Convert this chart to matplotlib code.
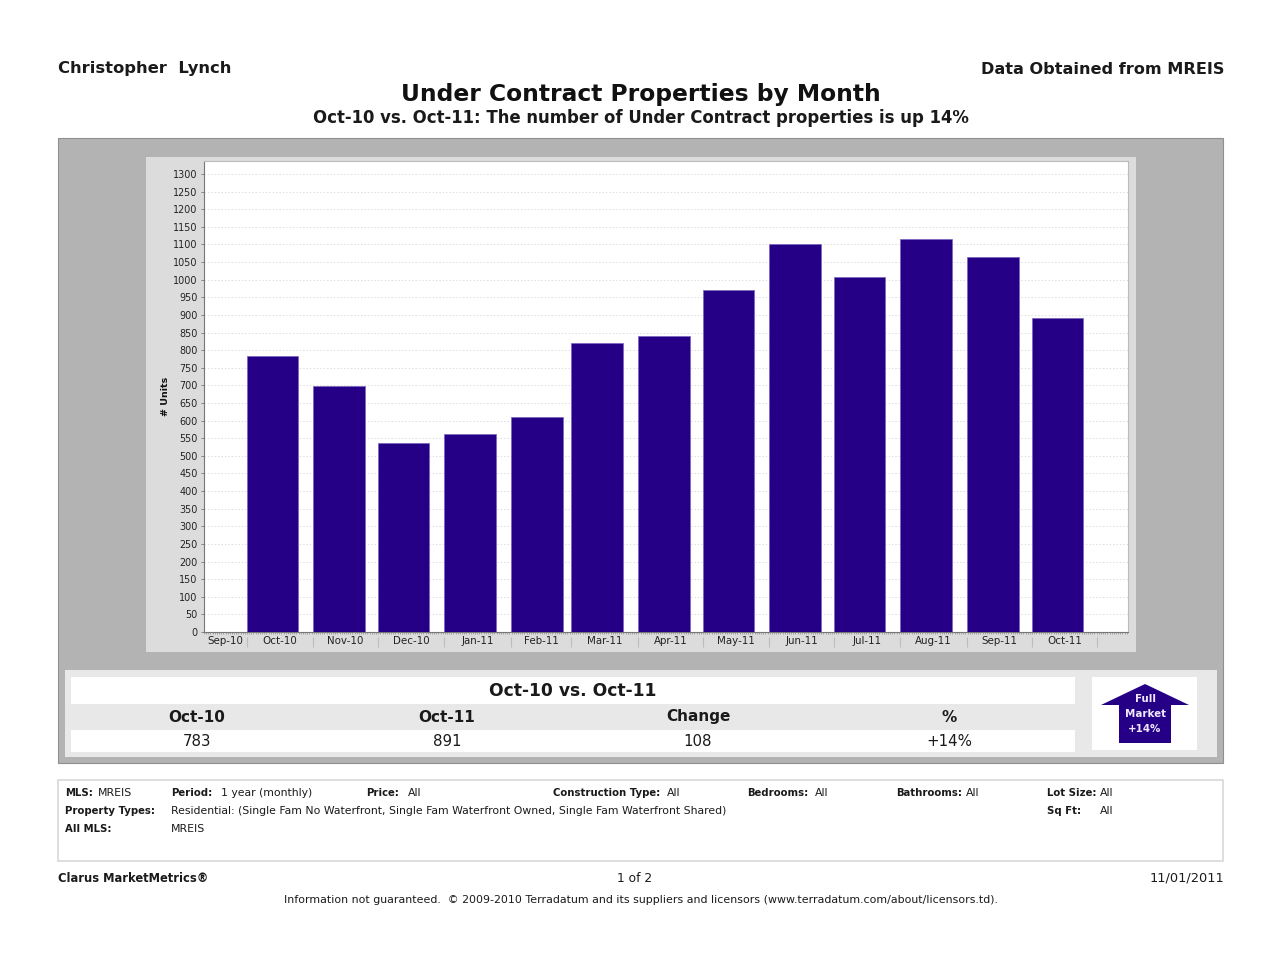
import matplotlib
matplotlib.use("Agg")
import matplotlib.pyplot as plt
import matplotlib.dates as mdates
from matplotlib.patches import Rectangle, Polygon
from datetime import datetime, timedelta

W, H = 1280, 971

months = ["Oct-10", "Nov-10", "Dec-10", "Jan-11", "Feb-11", "Mar-11", "Apr-11",
          "May-11", "Jun-11", "Jul-11", "Aug-11", "Sep-11", "Oct-11"]
units = [783, 698, 536, 562, 610, 820, 840, 970, 1101, 1007, 1115, 1064, 891]

table_heads = ["Oct-10", "Oct-11", "Change", "%"]
table_vals = ["783", "891", "108", "+14%"]

plt.rcParams["font.family"] = ["DejaVu Sans"]

fig = plt.figure(figsize=(W / 100, H / 100), dpi=100, facecolor="white")

# page level layer in pixel coordinates
bg = fig.add_axes([0, 0, 1, 1])
bg.set_xlim(0, W)
bg.set_ylim(H, 0)
bg.axis("off")


def box(x0, y0, x1, y1, fc, ec="none", lw=0, z=1):
    bg.add_patch(Rectangle((x0, y0), x1 - x0, y1 - y0, fc=fc, ec=ec, lw=lw, zorder=z))


def txt(x, y, s, size, bold=False, ha="left", color="#1a1a1a"):
    bg.text(x, y, s, fontsize=size, fontweight="bold" if bold else "normal",
            ha=ha, va="center", color=color, zorder=5)


# header
txt(58, 69, "Christopher  Lynch", 11.75, True)
txt(1224, 69, "Data Obtained from MREIS", 11.6, True, ha="right")
txt(641, 95, "Under Contract Properties by Month", 16.8, True, ha="center", color="#111111")
txt(641, 118, "Oct-10 vs. Oct-11: The number of Under Contract properties is up 14%", 11.9, True, ha="center")

# grey panels
box(58, 138, 1223, 763, "#b3b3b3", "#8f8f8f", 0.8)
box(146, 157, 1136, 652, "#dcdcdc")
box(65, 670, 1217, 757, "#e8e8e8")
box(71, 677, 1075, 704, "white")
box(71, 730, 1075, 752, "white")
box(1092, 677, 1197, 750, "white")

# summary table
txt(573, 690.5, "Oct-10 vs. Oct-11", 12.3, True, ha="center")
for cx, head, val in zip([197, 447, 698, 949], table_heads, table_vals):
    txt(cx, 717, head, 11, True, ha="center")
    txt(cx, 741, val, 10.8, ha="center")

# market direction arrow
bg.add_patch(Polygon([(1145, 684), (1189, 705), (1171, 705), (1171, 743),
                      (1119, 743), (1119, 705), (1101, 705)], fc="#250087", zorder=3))
for y, s in zip([699, 714, 729], ["Full", "Market", "+14%"]):
    txt(1145, y, s, 7.4, True, ha="center", color="#efe8ff")

# filter box
box(58, 780, 1223, 861, "white", "#d8d8d8", 1.2)
for x, y, s, b in [
    (65, 793, "MLS:", True), (98, 793, "MREIS", False),
    (171, 793, "Period:", True), (221, 793, "1 year (monthly)", False),
    (366, 793, "Price:", True), (408, 793, "All", False),
    (553, 793, "Construction Type:", True), (667, 793, "All", False),
    (747, 793, "Bedrooms:", True), (815, 793, "All", False),
    (896, 793, "Bathrooms:", True), (966, 793, "All", False),
    (1047, 793, "Lot Size:", True), (1100, 793, "All", False),
    (65, 811, "Property Types:", True),
    (171, 811, "Residential: (Single Fam No Waterfront, Single Fam Waterfront Owned, Single Fam Waterfront Shared)", False),
    (1047, 811, "Sq Ft:", True), (1100, 811, "All", False),
    (65, 829, "All MLS:", True), (171, 829, "MREIS", False),
]:
    txt(x, y, s, 7.3 if b else 7.85, b)

# footer
txt(58, 878, "Clarus MarketMetrics\u00ae", 8.3, True)
txt(635, 878, "1 of 2", 8.8, ha="center")
txt(1224, 878, "11/01/2011", 9.3, ha="right")
txt(641, 900, "Information not guaranteed.  \u00a9 2009-2010 Terradatum and its suppliers and licensors (www.terradatum.com/about/licensors.td).",
    7.95, ha="center")

# bar chart on a date axis, so month lengths show in the spacing
ax = fig.add_axes([204 / W, 1 - 632 / H, (1128 - 204) / W, (632 - 161) / H])
dates = [datetime.strptime(m, "%b-%y") for m in months]
bar_days = 24
ax.bar(dates, units, width=bar_days, color="#250087", edgecolor="#7a63c0", linewidth=0.5, zorder=3)

ax.set_xlim(dates[0] - timedelta(days=31.8), dates[-1] + timedelta(days=32.8))
ax.set_ylim(0, 1337)
ax.set_yticks(range(0, 1301, 50))
ax.tick_params(axis="y", labelsize=6.9, length=2, width=0.6, color="#777777", pad=2.5, labelcolor="#222222")
ax.yaxis.grid(True, color="#dedede", linestyle=(0, (1.5, 2)), linewidth=0.7, zorder=0)
ax.set_axisbelow(True)
ax.set_ylabel("# Units", fontsize=6.8, fontweight="bold", labelpad=2, color="#111111")

# month labels sit between the separators, which start at each bar's left edge
edges = [d - timedelta(days=bar_days / 2) for d in dates]
edges.append(dates[-1] + timedelta(days=18.5))
left = mdates.num2date(ax.get_xlim()[0]).replace(tzinfo=None)
all_edges = [left] + edges
label_pos = [all_edges[i] + (all_edges[i + 1] - all_edges[i]) / 2 for i in range(len(all_edges) - 1)]
ax.set_xticks(label_pos)
ax.set_xticklabels(["Sep-10"] + months)
ax.tick_params(axis="x", which="major", length=0, labelsize=7.4, pad=3, labelcolor="#222222")

# separators below the axis, plus the fine daily ticks right under it
trans = ax.get_xaxis_transform()
ax.vlines(edges, -15 / 471, -5 / 471, transform=trans, color="#bdbdbd", linewidth=0.8, clip_on=False)
xmin, xmax = ax.get_xlim()
days = [xmin + i for i in range(int(xmax - xmin) + 1)]
ax.vlines(days, -2.2 / 471, 0, transform=trans, color="#8c8c8c", linewidth=0.5, clip_on=False)

ax.spines["left"].set_color("#777777")
ax.spines["bottom"].set_color("#777777")
ax.spines["top"].set_color("#bbbbbb")
ax.spines["right"].set_color("#bbbbbb")
for s in ax.spines.values():
    s.set_linewidth(0.8)

fig.savefig("out.png", dpi=100, facecolor="white")
